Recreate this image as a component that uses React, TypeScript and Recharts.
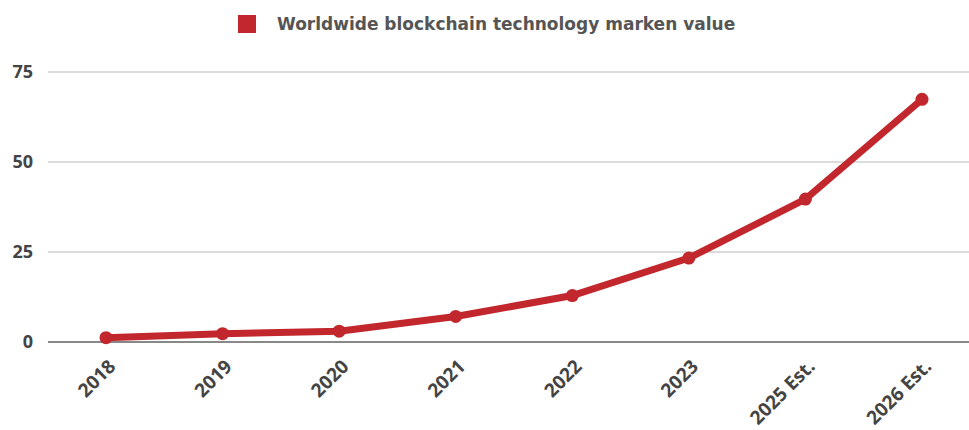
import React from 'react';
import { LineChart, Line, XAxis, YAxis, CartesianGrid } from 'recharts';

const years = ['2018', '2019', '2020', '2021', '2022', '2023', '2025 Est.', '2026 Est.'];
const marketValue = [1.2, 2.3, 3.0, 7.1, 12.9, 23.3, 39.7, 67.4];
const yTicks = [0, 25, 50, 75];

const RED = '#c1272d';
const FONT = '"Open Sans", sans-serif';

const data = years.map((year, i) => ({ year, value: marketValue[i] }));

const XTick = ({ x, y, payload }: any) => (
  <text
    x={0}
    y={0}
    transform={`translate(${x + 6}, ${y + 13}) rotate(-45)`}
    textAnchor="end"
    dy="0.35em"
    fill="#444"
    fontSize={19}
    fontWeight={700}
    fontFamily={FONT}
  >
    {payload.value}
  </text>
);

export default function App() {
  return (
    <div style={{ position: 'absolute', left: 0, top: 0, width: 969, height: 430, background: '#fff' }}>
      <div
        style={{
          position: 'absolute',
          left: 238,
          top: 14,
          display: 'flex',
          alignItems: 'center',
          fontFamily: '"DejaVu Sans", sans-serif',
          fontWeight: 700,
          fontSize: 17,
          color: '#555',
          whiteSpace: 'nowrap',
        }}
      >
        <span style={{ width: 18, height: 18, background: RED, display: 'inline-block', marginRight: 21 }} />
        <span>Worldwide blockchain technology marken value</span>
      </div>
      <LineChart width={969} height={430} data={data} margin={{ top: 72, right: 0, left: 0, bottom: 0 }}>
        <CartesianGrid vertical={false} stroke="#d0d0d0" strokeWidth={1.5} />
        <XAxis
          dataKey="year"
          interval={0}
          padding={{ left: 58, right: 47 }}
          height={88}
          axisLine={{ stroke: '#888', strokeWidth: 2 }}
          tickLine={false}
          tick={<XTick />}
        />
        <YAxis
          domain={[0, 75]}
          ticks={yTicks}
          width={48}
          axisLine={false}
          tickLine={false}
          tickMargin={9}
          tick={{ fill: '#444', fontSize: 18, fontWeight: 700, fontFamily: FONT }}
        />
        <Line
          type="linear"
          dataKey="value"
          stroke={RED}
          strokeWidth={7}
          dot={{ r: 6.5, fill: RED, stroke: RED, strokeWidth: 0 }}
          activeDot={false}
          isAnimationActive={false}
        />
      </LineChart>
    </div>
  );
}
